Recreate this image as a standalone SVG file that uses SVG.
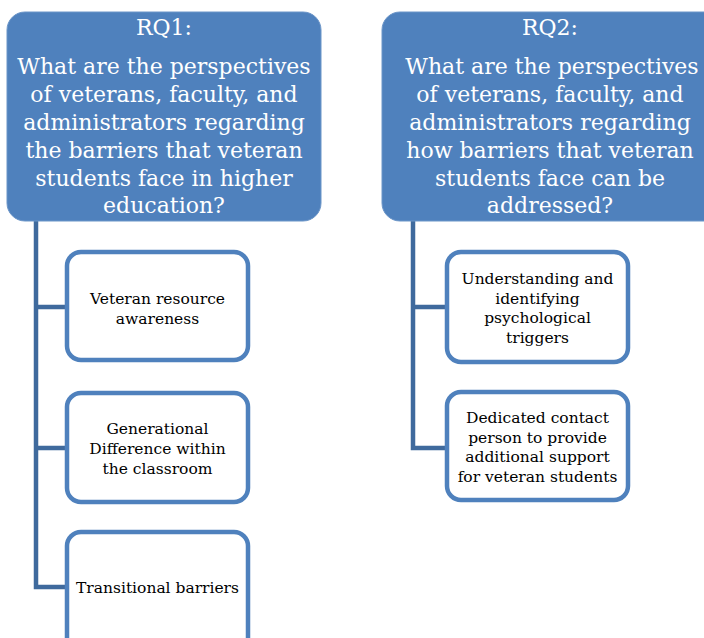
<svg xmlns="http://www.w3.org/2000/svg" width="704" height="638" viewBox="0 0 704 638">
<style>
.hdr{fill:#4F81BD;stroke:#6B95C8;stroke-width:1}
.child{fill:#FFFFFF;stroke:#4F81BD;stroke-width:4.5}
.ht{font-family:"DejaVu Serif","Liberation Serif",serif;font-size:22px;fill:#FFFFFF;text-anchor:middle}
.ct{font-family:"DejaVu Serif","Liberation Serif",serif;font-size:15.5px;fill:#000000;text-anchor:middle}
.conn{fill:none;stroke:#3F6A9D;stroke-width:4.5;stroke-linejoin:miter}
</style>
<rect width="704" height="638" fill="#FFFFFF"/>
<g id="connectors">
<path class="conn" d="M36,221 V587 H67 M36,307 H67 M36,448 H67"/>
<path class="conn" d="M413,221 V448 H447 M413,307 H447"/>
</g>
<g id="rq1">
<rect class="hdr" x="7" y="12" width="314" height="209" rx="18"/>
<text class="ht"><tspan x="164" y="35">RQ1:</tspan><tspan x="164" y="74">What are the perspectives</tspan><tspan x="164" y="102">of veterans, faculty, and</tspan><tspan x="164" y="130">administrators regarding</tspan><tspan x="164" y="158">the barriers that veteran</tspan><tspan x="164" y="186">students face in higher</tspan><tspan x="164" y="213">education?</tspan></text>
</g>
<g id="rq2">
<rect class="hdr" x="382" y="12" width="340" height="209" rx="18"/>
<text class="ht"><tspan x="550" y="35">RQ2:</tspan><tspan x="552" y="74">What are the perspectives</tspan><tspan x="550" y="102">of veterans, faculty, and</tspan><tspan x="550" y="130">administrators regarding</tspan><tspan x="550" y="158">how barriers that veteran</tspan><tspan x="550" y="186">students face can be</tspan><tspan x="550" y="213">addressed?</tspan></text>
</g>
<g id="c1">
<rect class="child" x="67" y="252" width="181" height="108" rx="14"/>
<text class="ct"><tspan x="157.5" y="304">Veteran resource</tspan><tspan x="157.5" y="324">awareness</tspan></text>
</g>
<g id="c2">
<rect class="child" x="67" y="393" width="181" height="109" rx="14"/>
<text class="ct"><tspan x="157.5" y="434">Generational</tspan><tspan x="157.5" y="454">Difference within</tspan><tspan x="157.5" y="474">the classroom</tspan></text>
</g>
<g id="c3">
<rect class="child" x="67" y="532" width="181" height="120" rx="14"/>
<text class="ct"><tspan x="157.5" y="593">Transitional barriers</tspan></text>
</g>
<g id="c4">
<rect class="child" x="447" y="252" width="181" height="110" rx="14"/>
<text class="ct"><tspan x="537.5" y="284">Understanding and</tspan><tspan x="537.5" y="303.5">identifying</tspan><tspan x="537.5" y="323">psychological</tspan><tspan x="537.5" y="342.5">triggers</tspan></text>
</g>
<g id="c5">
<rect class="child" x="447" y="392" width="181" height="108" rx="14"/>
<text class="ct"><tspan x="537.5" y="423">Dedicated contact</tspan><tspan x="537.5" y="442.5">person to provide</tspan><tspan x="537.5" y="462">additional support</tspan><tspan x="537.5" y="481.5">for veteran students</tspan></text>
</g>
</svg>
